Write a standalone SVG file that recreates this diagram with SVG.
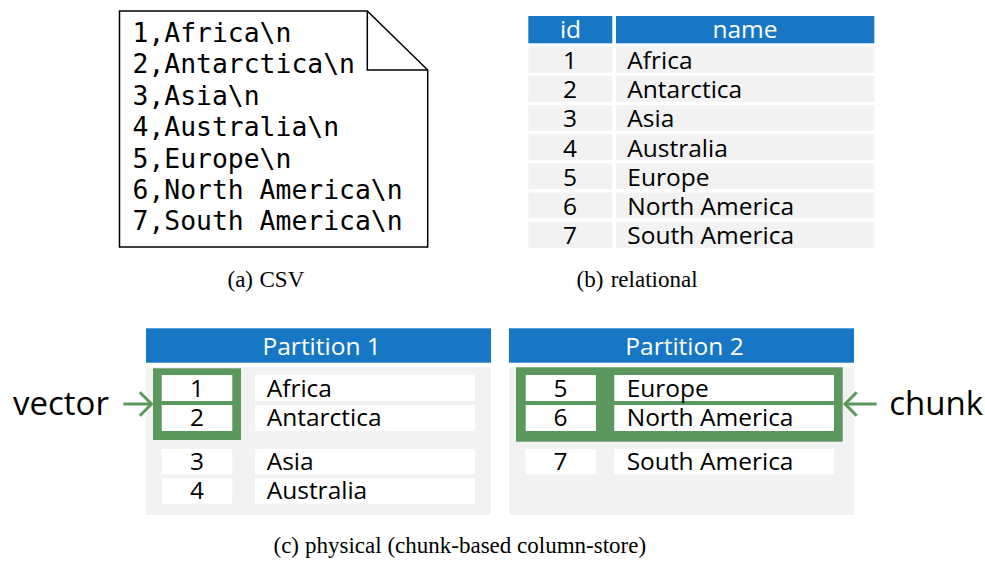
<svg xmlns="http://www.w3.org/2000/svg" width="985" height="561" viewBox="0 0 985 561">
  <style>
    .csv { font-family: "DejaVu Sans Mono", "Liberation Mono", monospace; font-size: 26.4px; fill: #000; }
    .hdr { fill: #1777C4; }
    .hdrtxt { font-family: "Open Sans", "Liberation Sans", sans-serif; font-size: 24.5px; fill: #fff; text-anchor: middle; }
    .row { fill: #F2F2F2; }
    .body { fill: #F2F2F2; }
    .cell { fill: #fff; }
    .chunk { fill: #5B985D; }
    .t { font-family: "Open Sans", "Liberation Sans", sans-serif; font-size: 24.5px; fill: #000; }
    .num { text-anchor: middle; }
    .big { font-family: "Open Sans", "Liberation Sans", sans-serif; font-size: 33px; fill: #000; }
    .cap { font-family: "Liberation Serif", "DejaVu Serif", serif; font-size: 23px; fill: #000; }
    .arrow { stroke: #5B985D; stroke-width: 3; fill: none; }
  </style>

  <!-- (a) CSV file -->
  <g id="csv-file">
    <path d="M119.5,11 H367.3 L427.7,70 V247 H119.5 Z" fill="#fff" stroke="#000" stroke-width="1.5"/>
    <path d="M367.3,11 V70 H427.7" fill="none" stroke="#000" stroke-width="1.5"/>
    <text class="csv" x="132.5" y="42">1,Africa\n</text>
    <text class="csv" x="132.5" y="73.4">2,Antarctica\n</text>
    <text class="csv" x="132.5" y="104.8">3,Asia\n</text>
    <text class="csv" x="132.5" y="136.2">4,Australia\n</text>
    <text class="csv" x="132.5" y="167.6">5,Europe\n</text>
    <text class="csv" x="132.5" y="199">6,North America\n</text>
    <text class="csv" x="132.5" y="230.4">7,South America\n</text>
  </g>
  <g id="caption-a">
    <text class="cap" x="227.5" y="286.5">(a)</text>
    <text class="cap" x="259.5" y="286.5">CSV</text>
  </g>

  <!-- (b) relational table -->
  <g id="relational-table">
    <rect class="hdr" x="528.3" y="16" width="84" height="27.3"/>
    <rect class="hdr" x="616" y="16" width="258.3" height="27.3"/>
    <text class="hdrtxt" x="570.5" y="38.3">id</text>
    <text class="hdrtxt" x="745" y="38.3">name</text>

    <rect class="row" x="528.3" y="46.7" width="84" height="26"/>
    <rect class="row" x="616" y="46.7" width="258.3" height="26"/>
    <rect class="row" x="528.3" y="76" width="84" height="25.8"/>
    <rect class="row" x="616" y="76" width="258.3" height="25.8"/>
    <rect class="row" x="528.3" y="105.1" width="84" height="25.8"/>
    <rect class="row" x="616" y="105.1" width="258.3" height="25.8"/>
    <rect class="row" x="528.3" y="134.2" width="84" height="25.8"/>
    <rect class="row" x="616" y="134.2" width="258.3" height="25.8"/>
    <rect class="row" x="528.3" y="163.3" width="84" height="25.8"/>
    <rect class="row" x="616" y="163.3" width="258.3" height="25.8"/>
    <rect class="row" x="528.3" y="192.5" width="84" height="25.8"/>
    <rect class="row" x="616" y="192.5" width="258.3" height="25.8"/>
    <rect class="row" x="528.3" y="221.7" width="84" height="26.6"/>
    <rect class="row" x="616" y="221.7" width="258.3" height="26.6"/>

    <text class="t num" x="570" y="69">1</text>
    <text class="t" x="627.3" y="69">Africa</text>
    <text class="t num" x="570" y="98.2">2</text>
    <text class="t" x="627.3" y="98.2">Antarctica</text>
    <text class="t num" x="570" y="127.4">3</text>
    <text class="t" x="627.3" y="127.4">Asia</text>
    <text class="t num" x="570" y="156.6">4</text>
    <text class="t" x="627.3" y="156.6">Australia</text>
    <text class="t num" x="570" y="185.8">5</text>
    <text class="t" x="627.3" y="185.8">Europe</text>
    <text class="t num" x="570" y="215">6</text>
    <text class="t" x="627.3" y="215">North America</text>
    <text class="t num" x="570" y="244.2">7</text>
    <text class="t" x="627.3" y="244.2">South America</text>
  </g>
  <g id="caption-b">
    <text class="cap" x="576.5" y="286.5">(b)</text>
    <text class="cap" x="610.7" y="286.5">relational</text>
  </g>

  <!-- (c) physical layout: partition 1 -->
  <g id="partition-1">
    <rect class="hdr" x="146" y="328.3" width="345" height="34.4"/>
    <text class="hdrtxt" x="321.7" y="355">Partition 1</text>
    <rect class="body" x="146" y="367.3" width="345" height="147.7"/>
    <!-- vector: one column of a chunk -->
    <rect class="chunk" x="153" y="368.3" width="88" height="71.7"/>
    <rect class="cell" x="161.7" y="375" width="70.6" height="26"/>
    <rect class="cell" x="161.7" y="405" width="70.6" height="26"/>
    <rect class="cell" x="161.7" y="449" width="70.6" height="25.3"/>
    <rect class="cell" x="161.7" y="478.3" width="70.6" height="25.4"/>
    <rect class="cell" x="255" y="375" width="220" height="26"/>
    <rect class="cell" x="255" y="405" width="220" height="26"/>
    <rect class="cell" x="255" y="449" width="220" height="25.3"/>
    <rect class="cell" x="255" y="478.3" width="220" height="25.4"/>
    <text class="t num" x="197" y="396.5">1</text>
    <text class="t" x="266.7" y="396.5">Africa</text>
    <text class="t num" x="197" y="426">2</text>
    <text class="t" x="266.7" y="426">Antarctica</text>
    <text class="t num" x="197" y="470">3</text>
    <text class="t" x="266.7" y="470">Asia</text>
    <text class="t num" x="197" y="499">4</text>
    <text class="t" x="266.7" y="499">Australia</text>
  </g>

  <!-- (c) physical layout: partition 2 -->
  <g id="partition-2">
    <rect class="hdr" x="509" y="328.3" width="345" height="34.4"/>
    <text class="hdrtxt" x="684.5" y="355">Partition 2</text>
    <rect class="body" x="509" y="367.3" width="345" height="147.7"/>
    <!-- chunk: rows 5-6 across both columns -->
    <rect class="chunk" x="516" y="367.3" width="326.7" height="74.4"/>
    <rect class="cell" x="525.7" y="375" width="70.3" height="26"/>
    <rect class="cell" x="525.7" y="405" width="70.3" height="26"/>
    <rect class="cell" x="525.7" y="449" width="70.3" height="25.3"/>
    <rect class="cell" x="614.3" y="375" width="219.7" height="26"/>
    <rect class="cell" x="614.3" y="405" width="219.7" height="26"/>
    <rect class="cell" x="614.3" y="449" width="219.7" height="25.3"/>
    <text class="t num" x="560.5" y="396.5">5</text>
    <text class="t" x="626.7" y="396.5">Europe</text>
    <text class="t num" x="560.5" y="426">6</text>
    <text class="t" x="626.7" y="426">North America</text>
    <text class="t num" x="560.5" y="470">7</text>
    <text class="t" x="626.7" y="470">South America</text>
  </g>

  <g id="label-vector">
    <text class="big" x="13" y="415">vector</text>
  </g>
  <g id="label-chunk">
    <text class="big" x="889.3" y="415">chunk</text>
  </g>

  <g id="connectors">
    <path class="arrow" d="M123.3,404 H152"/>
    <path class="arrow" d="M139.8,392.3 L151.5,404 L139.8,415.7"/>
    <path class="arrow" d="M876.7,404 H845"/>
    <path class="arrow" d="M856.7,392.3 L845,404 L856.7,415.7"/>
  </g>

  <g id="caption-c">
    <text class="cap" x="273.5" y="553.3">(c)</text>
    <text class="cap" x="305" y="553.3">physical (chunk-based column-store)</text>
  </g>
</svg>
